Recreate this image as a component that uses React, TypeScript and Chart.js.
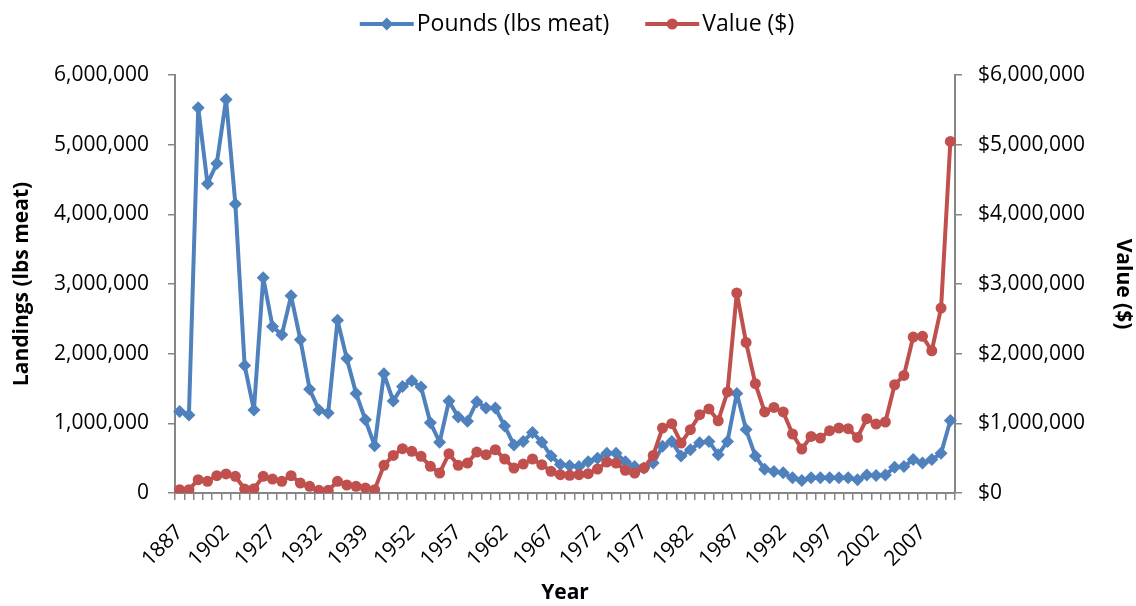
import React, { useEffect, useRef } from "react";
import { Chart, registerables } from "chart.js";

Chart.register(...registerables);

const years: string[] = [
  "1887", "1888", "1889", "1890", "1897", "1902", "1904", "1908", "1919", "1923",
  "1927", "1928", "1929", "1930", "1931", "1932", "1934", "1935", "1936", "1937",
  "1939", "1940", "1944", "1950", "1951", "1952", "1953", "1954", "1955", "1956",
  "1957", "1958", "1959", "1960", "1961", "1962", "1963", "1964", "1965", "1966",
  "1967", "1968", "1969", "1970", "1971", "1972", "1973", "1974", "1975", "1976",
  "1977", "1978", "1979", "1980", "1981", "1982", "1983", "1984", "1985", "1986",
  "1987", "1988", "1989", "1990", "1991", "1992", "1993", "1994", "1995", "1996",
  "1997", "1998", "1999", "2000", "2001", "2002", "2003", "2004", "2005", "2006",
  "2007", "2008", "2009", "2010",
];

const pounds: number[] = [
  1170000, 1120000, 5530000, 4440000, 4730000, 5650000, 4150000, 1830000, 1190000, 3090000,
  2390000, 2270000, 2830000, 2200000, 1490000, 1190000, 1150000, 2480000, 1930000, 1430000,
  1050000, 680000, 1710000, 1320000, 1530000, 1610000, 1520000, 1010000, 730000, 1320000,
  1090000, 1030000, 1310000, 1220000, 1220000, 960000, 690000, 740000, 870000, 730000,
  530000, 410000, 390000, 380000, 450000, 500000, 570000, 570000, 450000, 380000,
  360000, 430000, 670000, 740000, 530000, 620000, 720000, 740000, 550000, 740000,
  1430000, 910000, 530000, 340000, 310000, 290000, 220000, 180000, 220000, 220000,
  220000, 220000, 220000, 190000, 260000, 250000, 260000, 370000, 380000, 480000,
  430000, 480000, 570000, 1040000,
];

const values: number[] = [
  48000, 48000, 191000, 167000, 249000, 273000, 239000, 57000, 62000, 239000,
  200000, 167000, 249000, 143000, 96000, 38000, 38000, 167000, 115000, 96000,
  72000, 48000, 397000, 540000, 636000, 598000, 526000, 383000, 287000, 564000,
  397000, 430000, 588000, 550000, 621000, 488000, 359000, 416000, 488000, 406000,
  311000, 263000, 254000, 263000, 277000, 344000, 445000, 430000, 325000, 287000,
  359000, 540000, 933000, 995000, 717000, 909000, 1124000, 1206000, 1037000, 1450000,
  2871000, 2162000, 1569000, 1163000, 1229000, 1163000, 847000, 631000, 812000, 789000,
  894000, 933000, 923000, 798000, 1066000, 990000, 1019000, 1554000, 1688000, 2239000,
  2249000, 2042000, 2655000, 5047000,
];

const seriesNames = ["Pounds (lbs meat)", "Value ($)"];
const BLUE = "#4F81BD";
const RED = "#C0504D";
const AXIS = "#868686";
const FONT = "'Open Sans', sans-serif";

function drawMarker(g: CanvasRenderingContext2D, kind: string, x: number, y: number, color: string) {
  g.fillStyle = color;
  g.beginPath();
  if (kind === "diamond") {
    g.moveTo(x, y - 6.5);
    g.lineTo(x + 6.5, y);
    g.lineTo(x, y + 6.5);
    g.lineTo(x - 6.5, y);
    g.closePath();
  } else {
    g.arc(x, y, 5.5, 0, Math.PI * 2);
  }
  g.fill();
}

const legendPlugin = {
  id: "customLegend",
  afterDraw(chart: any) {
    const g: CanvasRenderingContext2D = chart.ctx;
    g.save();
    g.font = `23px ${FONT}`;
    g.textBaseline = "middle";
    g.textAlign = "left";
    const iconW = 54;
    const gapIcon = 3;
    const gapItem = 36;
    const items = chart.data.datasets.map((ds: any, i: number) => ({
      text: ds.label,
      color: ds.borderColor,
      kind: i === 0 ? "diamond" : "circle",
      w: g.measureText(ds.label).width,
    }));
    let total = 0;
    items.forEach((it: any, i: number) => {
      total += iconW + gapIcon + it.w + (i < items.length - 1 ? gapItem : 0);
    });
    const cy = 24;
    let x = 577 - total / 2;
    items.forEach((it: any) => {
      g.strokeStyle = it.color;
      g.lineWidth = 4;
      g.beginPath();
      g.moveTo(x, cy);
      g.lineTo(x + iconW, cy);
      g.stroke();
      drawMarker(g, it.kind, x + iconW / 2, cy, it.color);
      g.fillStyle = "#000";
      g.fillText(it.text, x + iconW + gapIcon, cy);
      x += iconW + gapIcon + it.w + gapItem;
    });
    g.restore();
  },
};

export default function App() {
  const ref = useRef<HTMLCanvasElement | null>(null);

  useEffect(() => {
    document.body.style.margin = "0";
    const chart = new Chart(ref.current!, {
      type: "line",
      data: {
        labels: years,
        datasets: [
          {
            label: seriesNames[0],
            data: pounds,
            yAxisID: "y",
            order: 1,
            borderColor: BLUE,
            backgroundColor: BLUE,
            borderWidth: 4,
            borderJoinStyle: "round",
            borderCapStyle: "round",
            pointStyle: "rectRot",
            pointRadius: 6.5,
            pointBorderWidth: 0,
            tension: 0,
          },
          {
            label: seriesNames[1],
            data: values,
            yAxisID: "y1",
            order: 0,
            borderColor: RED,
            backgroundColor: RED,
            borderWidth: 4,
            borderJoinStyle: "round",
            borderCapStyle: "round",
            pointStyle: "circle",
            pointRadius: 5.5,
            pointBorderWidth: 0,
            tension: 0,
          },
        ],
      },
      plugins: [legendPlugin],
      options: {
        animation: false,
        responsive: false,
        maintainAspectRatio: false,
        layout: { padding: { left: 0, right: 0, top: 75, bottom: 0 } },
        plugins: {
          tooltip: { enabled: false },
          legend: { display: false },
        },
        scales: {
          x: {
            type: "category",
            offset: true,
            afterFit: (s: any) => {
              s.height = 113;
            },
            grid: {
              offset: true,
              drawOnChartArea: false,
              drawTicks: true,
              tickLength: 7,
              color: AXIS,
              lineWidth: 1.5,
            },
            border: { color: AXIS, width: 2 },
            ticks: {
              autoSkip: false,
              maxRotation: 45,
              minRotation: 45,
              padding: 20,
              color: "#000",
              font: { family: FONT, size: 21 },
              callback: (_v: any, i: number) => (i % 5 === 0 ? years[i] : ""),
            },
            title: {
              display: true,
              text: "Year",
              color: "#000",
              font: { family: FONT, size: 21, weight: "bold" },
              padding: { top: 0, bottom: 0 },
            },
          },
          y: {
            position: "left",
            min: 0,
            max: 6000000,
            afterFit: (s: any) => {
              s.width = 175;
            },
            grid: {
              drawOnChartArea: false,
              tickLength: 7,
              color: AXIS,
              lineWidth: 1.5,
            },
            border: { color: AXIS, width: 2 },
            ticks: {
              stepSize: 1000000,
              color: "#000",
              padding: 19,
              font: { family: FONT, size: 21 },
              callback: (v: any) => Number(v).toLocaleString("en-US"),
            },
            title: {
              display: true,
              text: "Landings (lbs meat)",
              color: "#000",
              font: { family: FONT, size: 21, weight: "bold" },
              padding: { top: 9, bottom: 0 },
            },
          },
          y1: {
            position: "right",
            min: 0,
            max: 6000000,
            afterFit: (s: any) => {
              s.width = 181;
            },
            grid: {
              drawOnChartArea: false,
              tickLength: 7,
              color: AXIS,
              lineWidth: 1.5,
            },
            border: { color: AXIS, width: 2 },
            ticks: {
              stepSize: 1000000,
              color: "#000",
              padding: 16,
              font: { family: FONT, size: 21 },
              callback: (v: any) => "$" + Number(v).toLocaleString("en-US"),
            },
            title: {
              display: true,
              text: "Value ($)",
              color: "#000",
              font: { family: FONT, size: 21, weight: "bold" },
              padding: { top: 0, bottom: 0 },
            },
          },
        },
      },
    });
    return () => chart.destroy();
  }, []);

  return (
    <div style={{ position: "absolute", left: 0, top: 0, width: 1136, height: 606 }}>
      <canvas ref={ref} width={1136} height={606} style={{ width: 1136, height: 606 }} />
    </div>
  );
}
